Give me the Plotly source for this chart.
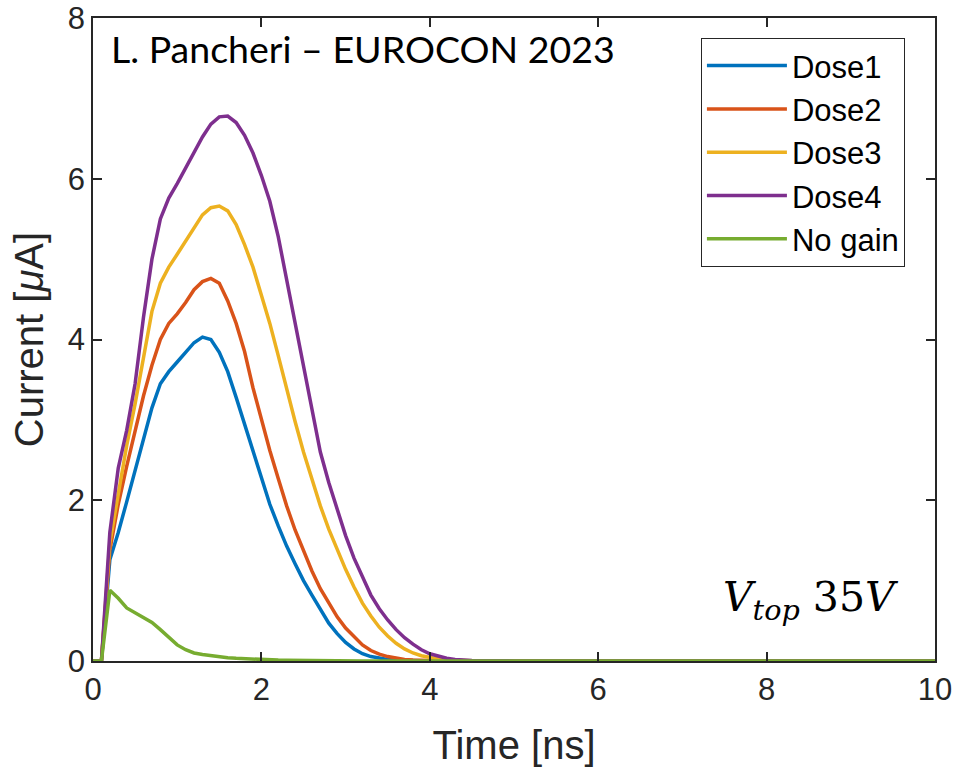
import plotly.graph_objects as go

time_ns = [0, 0.1, 0.2, 0.3, 0.4, 0.5, 0.6, 0.7, 0.8, 0.9,
           1.0, 1.1, 1.2, 1.3, 1.4, 1.5, 1.6, 1.7, 1.8, 1.9,
           2.0, 2.1, 2.2, 2.3, 2.4, 2.5, 2.6, 2.7, 2.8, 2.9,
           3.0, 3.1, 3.2, 3.3, 3.4, 3.5, 3.6, 3.7, 3.8, 3.9,
           4.0, 4.1, 4.2, 4.3, 4.4, 4.5, 5.0, 6.0, 8.0, 10.0]

dose1 = [0, 0, 1.26, 1.6, 1.98, 2.38, 2.78, 3.15, 3.45, 3.6,
         3.72, 3.84, 3.96, 4.03, 4.0, 3.84, 3.6, 3.28, 2.95, 2.6,
         2.27, 1.95, 1.68, 1.43, 1.21, 1.0, 0.82, 0.64, 0.47, 0.34,
         0.23, 0.15, 0.09, 0.055, 0.035, 0.02, 0.012, 0.007, 0.004, 0.002,
         0.001, 0.0005, 0, 0, 0, 0, 0, 0, 0, 0]

dose2 = [0, 0, 1.38, 1.95, 2.42, 2.88, 3.3, 3.68, 4.0, 4.2,
         4.32, 4.46, 4.62, 4.72, 4.76, 4.7, 4.48, 4.2, 3.85, 3.4,
         3.0, 2.62, 2.27, 1.93, 1.63, 1.36, 1.12, 0.9, 0.72, 0.55,
         0.41, 0.3, 0.2, 0.13, 0.085, 0.055, 0.035, 0.02, 0.012, 0.007,
         0.004, 0.002, 0.001, 0, 0, 0, 0, 0, 0, 0]

dose3 = [0, 0, 1.47, 2.1, 2.68, 3.2, 3.75, 4.35, 4.7, 4.9,
         5.06, 5.22, 5.38, 5.55, 5.64, 5.66, 5.6, 5.43, 5.18, 4.9,
         4.55, 4.2, 3.8, 3.38, 2.98, 2.6, 2.25, 1.93, 1.64, 1.38,
         1.14, 0.92, 0.72, 0.56, 0.42, 0.31, 0.22, 0.15, 0.1, 0.065,
         0.04, 0.025, 0.015, 0.008, 0.004, 0.002, 0, 0, 0, 0]

dose4 = [0, 0, 1.6, 2.4, 2.87, 3.45, 4.28, 5.0, 5.5, 5.76,
         5.94, 6.13, 6.32, 6.52, 6.68, 6.77, 6.78, 6.7, 6.54, 6.32,
         6.04, 5.72, 5.28, 4.75, 4.2, 3.67, 3.12, 2.6, 2.22, 1.88,
         1.56, 1.28, 1.04, 0.82, 0.65, 0.51, 0.39, 0.29, 0.21, 0.14,
         0.09, 0.06, 0.035, 0.02, 0.012, 0.007, 0.001, 0, 0, 0]

no_gain = [0, 0, 0.88, 0.78, 0.66, 0.6, 0.54, 0.48, 0.39, 0.29,
           0.2, 0.14, 0.1, 0.08, 0.065, 0.05, 0.04, 0.033, 0.027, 0.022,
           0.018, 0.014, 0.011, 0.009, 0.007, 0.005, 0.004, 0.003, 0.002, 0.002,
           0.001, 0.001, 0.001, 0, 0, 0, 0, 0, 0, 0,
           0, 0, 0, 0, 0, 0, 0, 0, 0, 0]

series_names = ["Dose1", "Dose2", "Dose3", "Dose4", "No gain"]
series_values = [dose1, dose2, dose3, dose4, no_gain]
colors = ["#0072BD", "#D95319", "#EDB120", "#7E2F8E", "#77AC30"]

x_ticks = [0, 2, 4, 6, 8, 10]
y_ticks = [0, 2, 4, 6, 8]

fig = go.Figure()
for name, vals, col in zip(series_names, series_values, colors):
    fig.add_trace(go.Scatter(x=time_ns, y=vals, mode="lines", name=name,
                             line=dict(color=col, width=3.5)))

axis_common = dict(showline=True, linecolor="#262626", linewidth=1.5, mirror="ticks",
                   ticks="inside", ticklen=9, tickwidth=1.5, tickcolor="#262626",
                   showgrid=False, zeroline=False, automargin=False,
                   tickfont=dict(family="Liberation Sans, Arial", size=31, color="#262626"))

fig.update_xaxes(range=[0, 10], tickvals=x_ticks,
                 title=dict(text="Time [ns]", font=dict(family="Liberation Sans, Arial", size=40, color="#262626"), standoff=25),
                 **axis_common)
fig.update_yaxes(range=[0, 8], tickvals=y_ticks,
                 title=dict(text="Current [<i>μ</i>A]", font=dict(family="Liberation Sans, Arial", size=40, color="#262626"), standoff=12),
                 **axis_common)

fig.add_annotation(x=0.019, y=0.99, xref="paper", yref="paper", xanchor="left", yanchor="top",
                   text="L. Pancheri – EUROCON 2023", showarrow=False,
                   font=dict(family="Lato, Open Sans", size=37.5, color="black"))

fig.add_annotation(x=0.853, y=0.095, xref="paper", yref="paper", xanchor="center", yanchor="middle",
                   text="<i>V</i><sub><i>top</i></sub> 35<i>V</i>", showarrow=False,
                   font=dict(family="DejaVu Serif, Liberation Serif", size=41, color="black"))

fig.update_layout(
    width=956, height=768,
    margin=dict(l=93, r=21, t=18, b=107),
    plot_bgcolor="white", paper_bgcolor="white",
    legend=dict(x=0.722, y=0.969, xanchor="left", yanchor="top",
                bgcolor="white", bordercolor="#262626", borderwidth=1,
                font=dict(family="Liberation Sans, Arial", size=31, color="black"),
                itemwidth=80, tracegroupgap=0),
    showlegend=True,
)

fig.write_html("out.html")
